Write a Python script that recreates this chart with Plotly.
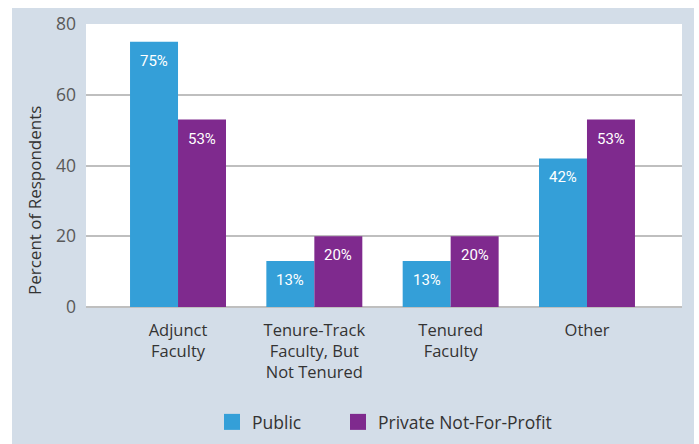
import plotly.graph_objects as go

categories = ["Adjunct<br>Faculty", "Tenure-Track<br>Faculty, But<br>Not Tenured", "Tenured<br>Faculty", "Other"]
public = [75, 13, 13, 42]
private = [53, 20, 20, 53]
series_names = ["Public", "Private Not-For-Profit"]
colors = ["#349fd8", "#7f2a8e"]
y_title = "Percent of Respondents"

W, H = 699, 444
L, R, T, B = 86, 17, 24, 137
pw = W - L - R
ph = H - T - B
bar_px = 48  # width of one bar in pixels

fig = go.Figure()
for name, vals, col in zip(series_names, [public, private], colors):
    fig.add_trace(go.Bar(
        x=categories, y=vals, name=name, marker=dict(color=col, line=dict(width=0)),
        showlegend=False, hoverinfo="skip"))
for i, (name, col) in enumerate(zip(series_names, colors)):
    fig.add_trace(go.Scatter(x=[None], y=[None], mode="markers", name=name,
                             legend="legend" if i == 0 else "legend2",
                             marker=dict(symbol="square", size=16, color=col)))

for k, vals in enumerate([public, private]):
    for c, v in zip(categories, vals):
        fig.add_annotation(x=c, y=v, text=f"{v}%", showarrow=False, yanchor="top",
                           xshift=(k - 0.5) * bar_px, yshift=-8,
                           font=dict(color="white", size=15, family="Roboto, sans-serif"))

# y-axis title (placed lower than centre, as in the original)
fig.add_annotation(xref="paper", yref="paper", x=(34 - L) / pw, y=(T + ph - 201) / ph,
                   text=y_title, textangle=-90, showarrow=False, xanchor="center", yanchor="middle",
                   font=dict(size=17, color="#333333"))

fig.add_shape(type="rect", xref="paper", yref="paper",
              x0=(12 - L) / pw, x1=(694 - L) / pw, y0=-0.6, y1=(H - B - 8) / ph,
              fillcolor="#d3dde8", line=dict(width=0), layer="below")
fig.add_shape(type="rect", xref="paper", yref="paper", x0=0, x1=1, y0=0, y1=1,
              fillcolor="white", line=dict(width=0), layer="below")

leg_common = dict(orientation="h", xanchor="left", y=(307 - 422) / ph, yanchor="middle",
                  font=dict(size=17.5, color="#333333"), bgcolor="rgba(0,0,0,0)")

fig.update_layout(
    width=W, height=H, margin=dict(l=L, r=R, t=T, b=B, autoexpand=False),
    paper_bgcolor="white", plot_bgcolor="white",
    barmode="group", bargap=0.296, bargroupgap=0,
    font=dict(family="Open Sans, sans-serif", color="#333333", size=16),
    xaxis=dict(range=[-0.675, 3.697], showgrid=False, ticks="", tickfont=dict(size=16.5, color="#333333"),
               showline=False, fixedrange=True, automargin=False, ticklabelstandoff=11),
    yaxis=dict(range=[0, 80], dtick=20, showgrid=True, gridcolor="#bfbfbf", gridwidth=2,
               zeroline=True, zerolinecolor="#bfbfbf", zerolinewidth=2, automargin=False,
               tickfont=dict(size=17.5, color="#595959"), ticklabelstandoff=9),
    legend=dict(x=(212 - L) / pw, **leg_common),
    legend2=dict(x=(338 - L) / pw, **leg_common),
)
fig.write_html("out.html", post_script="document.body.style.margin='0';",
               config={"displayModeBar": False})
